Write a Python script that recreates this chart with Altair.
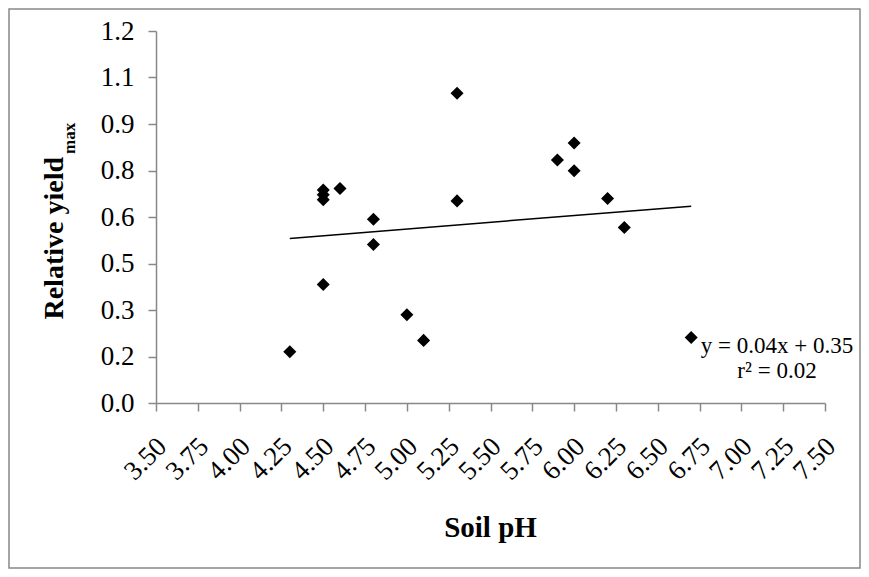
import altair as alt
import pandas as pd

ph = [4.3, 4.5, 4.5, 4.5, 4.5, 4.6, 4.8, 4.8, 5.0, 5.1, 5.3, 5.3, 5.9, 6.0, 6.0, 6.2, 6.3, 6.7]
rel_yield = [0.165, 0.382, 0.656, 0.672, 0.687, 0.692, 0.593, 0.511, 0.285, 0.202,
             0.652, 0.999, 0.784, 0.839, 0.749, 0.660, 0.566, 0.211]
trend_x = [4.3, 6.7]
trend_y = [0.531, 0.635]
x_ticks = [3.5 + 0.25 * i for i in range(17)]
y_ticks = [0.15 * i for i in range(9)]
eq_text = "y = 0.04x + 0.35"
r2_text = "r² = 0.02"

pts = pd.DataFrame({"ph": ph, "y": rel_yield})
trend = pd.DataFrame({"ph": trend_x, "y": trend_y})

FONT = "Liberation Serif"
GRAY = "#888888"

xscale = alt.Scale(domain=[3.5, 7.5], nice=False, zero=False)
yscale = alt.Scale(domain=[0, 1.2], nice=False, zero=True)

xaxis = alt.Axis(values=x_ticks, format=".2f", title=None, grid=False,
                 labelAngle=-45, labelAlign="right", labelBaseline="middle",
                 labelPadding=31, labelOffset=6, tickSize=8, labelFontSize=27,
                 labelFont=FONT, labelColor="black", domainColor=GRAY, tickColor=GRAY,
                 domainWidth=1.5, tickWidth=1.5, labelOverlap=False, labelFlush=False)
yaxis = alt.Axis(values=y_ticks, labelExpr="format(datum.value + 0.0001, '.1f')",
                 title=None, grid=False, labelPadding=14, tickSize=8,
                 labelFontSize=27, labelFont=FONT, labelColor="black",
                 domainColor=GRAY, tickColor=GRAY, domainWidth=1.5, tickWidth=1.5,
                 labelOverlap=False, labelFlush=False)

one = alt.Data(values=[{}])

border = alt.Chart(one).mark_rect(fillOpacity=0, stroke=GRAY, strokeWidth=1.5).encode(
    x=alt.value(-147), x2=alt.value(704), y=alt.value(-22), y2=alt.value(537))

points = alt.Chart(pts).mark_point(shape="diamond", filled=True, size=170,
                                   color="black", opacity=1).encode(
    x=alt.X("ph:Q", scale=xscale, axis=xaxis),
    y=alt.Y("y:Q", scale=yscale, axis=yaxis))

line = alt.Chart(trend).mark_line(color="black", strokeWidth=1.5).encode(
    x=alt.X("ph:Q", scale=xscale), y=alt.Y("y:Q", scale=yscale))

ytitle = alt.Chart(one).mark_text(text="Relative yield", angle=270, align="right",
                                  baseline="alphabetic", font=FONT, fontWeight="bold",
                                  fontSize=28, color="black").encode(
    x=alt.value(-93), y=alt.value(126))
ysub = alt.Chart(one).mark_text(text="max", angle=270, align="left",
                                baseline="alphabetic", font=FONT, fontWeight="bold",
                                fontSize=17, color="black").encode(
    x=alt.value(-81), y=alt.value(123))
xtitle = alt.Chart(one).mark_text(text="Soil pH", align="center", baseline="alphabetic",
                                  font=FONT, fontWeight="bold", fontSize=29,
                                  color="black").encode(
    x=alt.value(334.5), y=alt.value(505.7))
eq = alt.Chart(one).mark_text(text=eq_text, align="center", baseline="alphabetic",
                              font=FONT, fontSize=23, color="black").encode(
    x=alt.value(621), y=alt.value(322.3))
r2 = alt.Chart(one).mark_text(text=r2_text, align="center", baseline="alphabetic",
                              font=FONT, fontSize=23, color="black").encode(
    x=alt.value(621), y=alt.value(347.3))

chart = alt.layer(border, line, points, ytitle, ysub, xtitle, eq, r2).properties(
    width=669, height=372,
    autosize=alt.AutoSizeParams(type="none"),
    padding={"left": 148, "top": 23, "right": 36, "bottom": 166},
    background="white",
).configure(font=FONT).configure_axis(labelFont=FONT, labelFontSize=27).configure_view(stroke=None)

chart.save("out.html", embed_options={"renderer": "svg", "actions": False})
